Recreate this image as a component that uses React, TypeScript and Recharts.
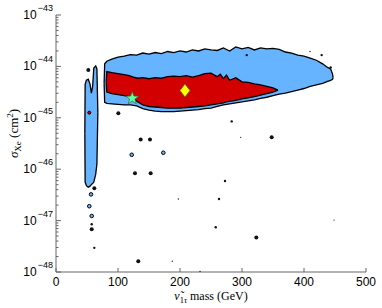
import { ComposedChart, Area, Scatter, XAxis, YAxis } from "recharts";

// all sigma values are log10(sigma / cm^2)

// 2 sigma region (blue)
const blueMass = [77.6, 78.5, 82, 90, 100, 110, 120, 130, 140, 150, 160, 170, 180, 190, 200, 210, 220, 230, 240, 250, 260, 270, 280, 290, 300, 310, 320, 330, 340, 350, 360, 370, 380, 390, 400, 410, 420, 430, 438, 443, 446, 447];
const blueHigh = [-44.33, -43.95, -43.9, -43.86, -43.82, -43.8, -43.77, -43.78, -43.74, -43.76, -43.73, -43.75, -43.71, -43.73, -43.7, -43.72, -43.68, -43.7, -43.66, -43.68, -43.69, -43.64, -43.7, -43.62, -43.66, -43.63, -43.68, -43.64, -43.66, -43.65, -43.67, -43.72, -43.74, -43.78, -43.8, -43.84, -43.88, -43.95, -44.02, -44.05, -44.15, -44.22];
const blueLow = [-44.33, -44.7, -44.72, -44.73, -44.74, -44.75, -44.75, -44.77, -44.82, -44.85, -44.87, -44.88, -44.88, -44.88, -44.87, -44.86, -44.85, -44.84, -44.82, -44.81, -44.78, -44.75, -44.73, -44.71, -44.69, -44.67, -44.65, -44.62, -44.6, -44.57, -44.54, -44.52, -44.49, -44.46, -44.43, -44.39, -44.36, -44.33, -44.29, -44.27, -44.25, -44.22];

// light-mass strip (blue)
const stripMass = [46.5, 47, 49, 52, 55, 57, 59, 61, 64, 66, 67.5];
const stripHigh = [-45.3, -44.35, -44.27, -44.25, -44.35, -44.52, -44.4, -44.03, -43.99, -44.05, -44.9];
const stripLow = [-45.3, -46.25, -46.32, -46.35, -46.33, -46.3, -46.28, -46.25, -46.1, -45.9, -44.9];

// 1 sigma region (red)
const redMass = [81, 82, 90, 100, 110, 118, 125, 132, 140, 150, 160, 170, 180, 190, 200, 210, 220, 230, 240, 250, 260, 265, 270, 275, 280, 290, 300, 310, 320, 330, 340, 350, 358];
const redHigh = [-44.31, -44.1, -44.12, -44.14, -44.16, -44.18, -44.21, -44.23, -44.22, -44.24, -44.22, -44.23, -44.2, -44.19, -44.2, -44.18, -44.21, -44.18, -44.14, -44.13, -44.2, -44.15, -44.24, -44.17, -44.27, -44.22, -44.3, -44.31, -44.34, -44.36, -44.39, -44.42, -44.46];
const redLow = [-44.31, -44.5, -44.53, -44.55, -44.57, -44.59, -44.63, -44.69, -44.75, -44.78, -44.79, -44.8, -44.81, -44.81, -44.81, -44.8, -44.79, -44.78, -44.77, -44.75, -44.73, -44.72, -44.71, -44.69, -44.68, -44.66, -44.63, -44.61, -44.59, -44.56, -44.53, -44.5, -44.46];

// isolated points [mass, log10 sigma]
const largeDots = [[52.1, -44.07], [100.5, -44.91], [136.6, -45.42], [151.6, -45.42], [127.4, -46.08], [152.7, -46.08], [347.9, -45.38], [323.1, -47.33], [132.7, -47.79], [57.6, -47.17], [61.8, -46.37]];
const smallDots = [[283.4, -45.07], [272.6, -46.23], [262.9, -46.58], [257.6, -47.13], [61.8, -47.53], [57.6, -47.07], [307.6, -43.78], [428.5, -43.78], [443, -44.02]];
const tinyDots = [[297.9, -45.38], [197.3, -46.58], [448.4, -46.99], [187.6, -47.79], [232.3, -47.99], [409.7, -43.71]];
const blueIslands = [[122.1, -45.72], [173.1, -45.68], [56.5, -46.49], [53.7, -46.72], [57.6, -46.91]];
const redIslands = [[53.7, -44.9]];
const bestFit = [[208, -44.47]];
const benchmark = [[123, -44.62]];

const xTicks = [0, 100, 200, 300, 400, 500];
const yExponents = [-48, -47, -46, -45, -44, -43];

const toBand = (mass: number[], lo: number[], hi: number[]) =>
  mass.map((m, i) => ({ mass: m, band: [Math.pow(10, lo[i]), Math.pow(10, hi[i])] }));
const toPoints = (pts: number[][]) => pts.map(([m, s]) => ({ mass: m, sigma: Math.pow(10, s) }));

const yTicks: number[] = [];
yExponents.forEach((e) => {
  yTicks.push(Math.pow(10, e));
  if (e < -43) for (let k = 2; k <= 9; k++) yTicks.push(k * Math.pow(10, e));
});

const isMajor = (v: number) => Math.abs(Math.log10(v) - Math.round(Math.log10(v))) < 1e-3;

const FRAME = "#666";
const BLUE = "#66b3ff";
const RED = "#d20000";

const LeftTick = (p: any) => {
  const { x, y, payload } = p;
  const major = isMajor(payload.value);
  return (
    <g>
      <line x1={x} x2={x + (major ? 5 : 2.5)} y1={y} y2={y} stroke={FRAME} />
      {major && (
        <text x={x - 3} y={y + 4} textAnchor="end" fontFamily="Liberation Sans" fontSize={12} fill="#000">
          <tspan>10</tspan>
          <tspan dx={1} dy={-8} fontSize={9}>{"\u2212" + Math.abs(Math.round(Math.log10(payload.value)))}</tspan>
        </text>
      )}
    </g>
  );
};

const RightTick = (p: any) => {
  const { x, y, payload } = p;
  const major = isMajor(payload.value);
  return <line x1={x} x2={x - (major ? 5 : 2.5)} y1={y} y2={y} stroke={FRAME} />;
};

const BottomTick = (p: any) => {
  const { x, y, payload } = p;
  return (
    <g>
      <line x1={x} x2={x} y1={y} y2={y - 4} stroke={FRAME} />
      <text x={x} y={y + 14} textAnchor="middle" fontFamily="Liberation Sans" fontSize={12} fill="#000">
        {payload.value}
      </text>
    </g>
  );
};

const TopTick = (p: any) => {
  const { x, y } = p;
  return <line x1={x} x2={x} y1={y} y2={y + 4} stroke={FRAME} />;
};

const dot = (r: number, fill: string, stroke?: string) => (p: any) =>
  <ellipse cx={p.cx} cy={p.cy} rx={r} ry={r} fill={fill} stroke={stroke ?? "none"} strokeWidth={1} />;

const Diamond = (p: any) => {
  const { cx, cy } = p;
  return <path d={`M${cx},${cy - 6.5} L${cx + 5},${cy} L${cx},${cy + 6.5} L${cx - 5},${cy} Z`} fill="#ffff00" stroke="#555" strokeWidth={0.7} />;
};

const Star = (p: any) => {
  const { cx, cy } = p;
  const pts: string[] = [];
  for (let i = 0; i < 10; i++) {
    const r = i % 2 === 0 ? 6.8 : 2.8;
    const a = -Math.PI / 2 + (i * Math.PI) / 5;
    pts.push(`${cx + r * Math.cos(a)},${cy + r * Math.sin(a)}`);
  }
  return <polygon points={pts.join(" ")} fill="#66ff99" stroke="#2a6a40" strokeWidth={0.7} />;
};

export default function App() {
  return (
    <div style={{ position: "absolute", left: 0, top: 0, background: "#fff" }}>
      <ComposedChart width={382} height={308} margin={{ top: 15, right: 16, left: 0, bottom: 0 }}>
        <XAxis xAxisId="x" dataKey="mass" type="number" domain={[0, 500]} allowDataOverflow ticks={xTicks}
          height={36} tickLine={false} tickSize={0} tickMargin={0} tick={<BottomTick />} axisLine={{ stroke: FRAME }} />
        <XAxis xAxisId="xt" orientation="top" dataKey="mass" type="number" domain={[0, 500]} allowDataOverflow ticks={xTicks}
          height={0} tickLine={false} tickSize={0} tickMargin={0} tick={<TopTick />} axisLine={{ stroke: FRAME }} />
        <YAxis yAxisId="y" dataKey="sigma" type="number" scale="log" domain={[1e-48, 1e-43]} allowDataOverflow ticks={yTicks}
          interval={0} width={56} tickLine={false} tickSize={0} tickMargin={0} tick={<LeftTick />} axisLine={{ stroke: FRAME }} />
        <YAxis yAxisId="yr" orientation="right" dataKey="sigma" type="number" scale="log" domain={[1e-48, 1e-43]} allowDataOverflow ticks={yTicks}
          interval={0} width={0} tickLine={false} tickSize={0} tickMargin={0} tick={<RightTick />} axisLine={{ stroke: FRAME }} />

        <Area xAxisId="x" yAxisId="y" data={toBand(blueMass, blueLow, blueHigh)} dataKey="band" type="linear"
          fill={BLUE} fillOpacity={1} stroke="#000" strokeWidth={1.3} isAnimationActive={false} />
        <Area xAxisId="x" yAxisId="y" data={toBand(stripMass, stripLow, stripHigh)} dataKey="band" type="linear"
          fill={BLUE} fillOpacity={1} stroke="#000" strokeWidth={1.3} isAnimationActive={false} />
        <Area xAxisId="x" yAxisId="y" data={toBand(redMass, redLow, redHigh)} dataKey="band" type="linear"
          fill={RED} fillOpacity={1} stroke="#000" strokeWidth={1.3} isAnimationActive={false} />

        <Scatter xAxisId="x" yAxisId="y" data={toPoints(largeDots)} dataKey="sigma" shape={dot(2, "#111")} isAnimationActive={false} />
        <Scatter xAxisId="x" yAxisId="y" data={toPoints(smallDots)} dataKey="sigma" shape={dot(1.2, "#111")} isAnimationActive={false} />
        <Scatter xAxisId="x" yAxisId="y" data={toPoints(tinyDots)} dataKey="sigma" shape={dot(0.7, "#222")} isAnimationActive={false} />
        <Scatter xAxisId="x" yAxisId="y" data={toPoints(blueIslands)} dataKey="sigma" shape={dot(1.8, BLUE, "#000")} isAnimationActive={false} />
        <Scatter xAxisId="x" yAxisId="y" data={toPoints(redIslands)} dataKey="sigma" shape={dot(1.5, RED, "#000")} isAnimationActive={false} />
        <Scatter xAxisId="x" yAxisId="y" data={toPoints(bestFit)} dataKey="sigma" shape={Diamond} isAnimationActive={false} />
        <Scatter xAxisId="x" yAxisId="y" data={toPoints(benchmark)} dataKey="sigma" shape={Star} isAnimationActive={false} />

        <text x={211} y={300} textAnchor="middle" fontFamily="Liberation Serif" fontSize={12} fill="#000">
          <tspan fontStyle="italic">{"\u03bd\u0303"}</tspan>
          <tspan dy={3} fontSize={8.5}>1</tspan>
          <tspan fontSize={8.5} fontStyle="italic">{"\u03c4"}</tspan>
          <tspan dy={-3}> mass (GeV)</tspan>
        </text>
        <text x={13} y={138} textAnchor="middle" transform="rotate(-90 13 133.5)" fontFamily="Liberation Serif" fontSize={13} fill="#000">
          <tspan fontStyle="italic">{"\u03c3"}</tspan>
          <tspan dy={3} fontSize={9}>Xe</tspan>
          <tspan dy={-3}> (cm</tspan>
          <tspan dy={-5} fontSize={9}>2</tspan>
          <tspan dy={5}>)</tspan>
        </text>
      </ComposedChart>
    </div>
  );
}
